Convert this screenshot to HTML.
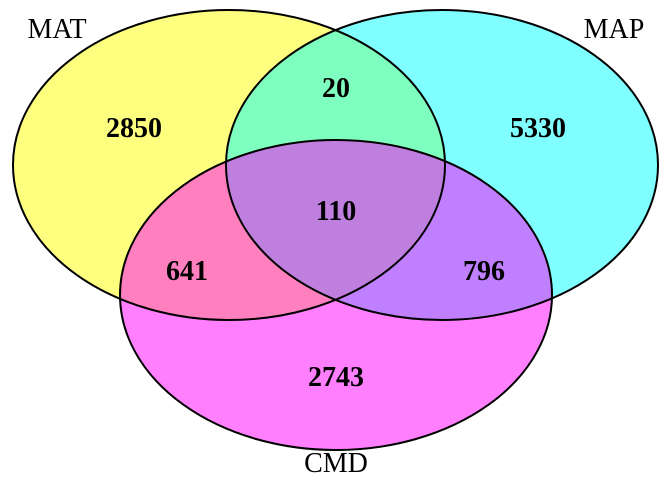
<!DOCTYPE html>
<html><head><meta charset="utf-8"><style>
html,body{margin:0;padding:0;background:#fff;}
svg{display:block;}
text{font-family:"Liberation Serif",serif;}
</style></head><body>
<svg id="chart" width="672" height="480">
<g id="sets"></g><g id="labels"></g>
</svg>
<script>
const setNames = ["MAT","MAP","CMD"];
const setColors = ["#ffff00","#00ffff","#ff00ff"];
const regionNames = ["MAT only","MAP only","CMD only","MAT∩MAP","MAT∩CMD","MAP∩CMD","all"];
const regionCounts = [2850,5330,2743,20,641,796,110];
const ns="http://www.w3.org/2000/svg";
const svg=document.getElementById('chart');
const gS=document.getElementById('sets'), gL=document.getElementById('labels');
const ellipses=[{cx:229,cy:165},{cx:442,cy:165},{cx:336,cy:295}];
const rx=216, ry=155;
const namePos=[[57,38,"middle"],[614,38,"middle"],[336,472,"middle"]];
const regionPos=[[134,137],[538,137],[336,386],[336,97],[187,280],[484,280],[336,220]];
ellipses.forEach((e,i)=>{
  const el=document.createElementNS(ns,'ellipse');
  el.setAttribute('cx',e.cx);el.setAttribute('cy',e.cy);el.setAttribute('rx',rx);el.setAttribute('ry',ry);
  el.setAttribute('fill',setColors[i]);el.setAttribute('fill-opacity','0.5');
  
  
  gS.appendChild(el);
});
ellipses.forEach((e,i)=>{
  const el=document.createElementNS(ns,'ellipse');
  el.setAttribute('cx',e.cx);el.setAttribute('cy',e.cy);el.setAttribute('rx',rx);el.setAttribute('ry',ry);
  el.setAttribute('fill','none');el.setAttribute('stroke','#000');el.setAttribute('stroke-width','2');
  
  
  gS.appendChild(el);
});
setNames.forEach((n,i)=>{
  const t=document.createElementNS(ns,'text');
  t.setAttribute('x',namePos[i][0]);t.setAttribute('y',namePos[i][1]);t.setAttribute('text-anchor',namePos[i][2]);
  t.setAttribute('font-size','28');t.textContent=n;
  
  
  gL.appendChild(t);
});
regionCounts.forEach((c,i)=>{
  const t=document.createElementNS(ns,'text');
  t.setAttribute('x',regionPos[i][0]);t.setAttribute('y',regionPos[i][1]);t.setAttribute('text-anchor','middle');
  t.setAttribute('font-size','28');t.setAttribute('font-weight','bold');t.textContent=c;
  
  
  gL.appendChild(t);
});
</script>
</body></html>
